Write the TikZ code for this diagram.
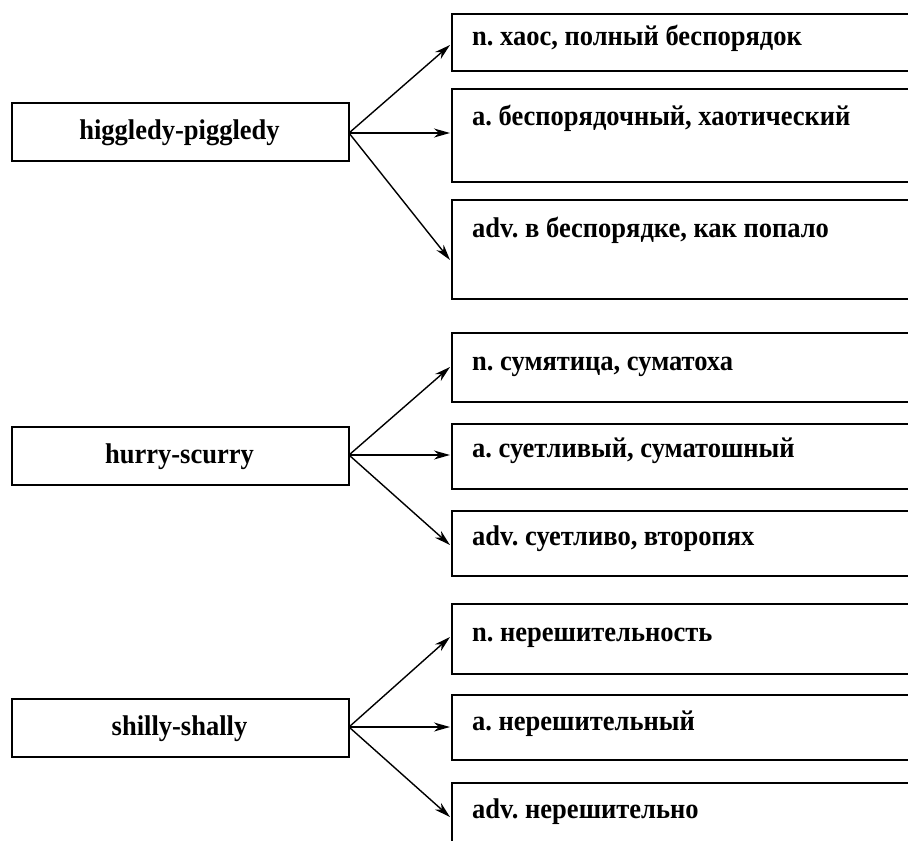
\documentclass[tikz,border=0pt]{standalone}
\usepackage{fontspec}
\setmainfont{Liberation Serif}[FakeStretch=0.93]
\usetikzlibrary{arrows.meta}
\begin{document}
\frenchspacing
\begin{tikzpicture}[x=1pt,y=-1pt,
  every node/.style={font=\fontsize{28.5}{32}\selectfont\bfseries},
  leftbox/.style={draw,line width=1.7pt,minimum width=337pt,minimum height=58pt,inner sep=0pt,anchor=north west},
  rightbox/.style={draw,line width=1.7pt,minimum width=520pt,inner sep=0pt,anchor=north west},
  deftext/.style={anchor=base west,inner sep=0pt},
  conn/.style={line width=1.4pt,-{Stealth[length=16pt,width=9pt,inset=5pt]}}]
\useasboundingbox (0,0) rectangle (908,841);
\clip (0,0) rectangle (908,841);
% left boxes
\node[leftbox] (L1) at (11,102) {};
\node[leftbox] (L2) at (11,426) {};
\node[leftbox] (L3) at (11,698) {};
\node[anchor=base,inner sep=0pt] (T1) at (179.5,139) {higgledy-piggledy};
\node[anchor=base,inner sep=0pt] (T2) at (179.5,463) {hurry-scurry};
\node[anchor=base,inner sep=0pt] (T3) at (179.5,735) {shilly-shally};
% right boxes group 1
\node[rightbox,minimum height=57pt] (A1) at (451,13) {};
\node[rightbox,minimum height=93pt] (A2) at (451,88) {};
\node[rightbox,minimum height=99pt] (A3) at (451,199) {};
\node[deftext] (a1) at (472,45) {n. хаос, полный беспорядок};
\node[deftext] (a2) at (472,125) {a. беспорядочный, хаотический};
\node[deftext] (a3) at (472,237) {adv. в беспорядке, как попало};
% group 2
\node[rightbox,minimum height=69pt] (B1) at (451,332) {};
\node[rightbox,minimum height=65pt] (B2) at (451,423) {};
\node[rightbox,minimum height=65pt] (B3) at (451,510) {};
\node[deftext] (b1) at (472,370) {n. сумятица, суматоха};
\node[deftext] (b2) at (472,457) {a. суетливый, суматошный};
\node[deftext] (b3) at (472,545) {adv. суетливо, второпях};
% group 3
\node[rightbox,minimum height=70pt] (C1) at (451,603) {};
\node[rightbox,minimum height=65pt] (C2) at (451,694) {};
\node[rightbox,minimum height=100pt] (C3) at (451,782) {};
\node[deftext] (c1) at (472,641) {n. нерешительность};
\node[deftext] (c2) at (472,730) {a. нерешительный};
\node[deftext] (c3) at (472,818) {adv. нерешительно};
% arrow targets on the left edges
\coordinate (pA1) at (450,45);
\coordinate (pA2) at (450,133);
\coordinate (pA3) at (450,260);
\coordinate (pB1) at (450,367);
\coordinate (pB2) at (450,455);
\coordinate (pB3) at (450,545);
\coordinate (pC1) at (450,637);
\coordinate (pC2) at (450,727);
\coordinate (pC3) at (450,817);
\coordinate (s1) at (349,133);
\coordinate (s2) at (349,455);
\coordinate (s3) at (349,727);
\foreach \g/\s in {A/s1,B/s2,C/s3}{
  \foreach \i in {1,2,3}{
    \draw[conn] (\s) -- (p\g\i);
  }
}
\end{tikzpicture}
\end{document}
